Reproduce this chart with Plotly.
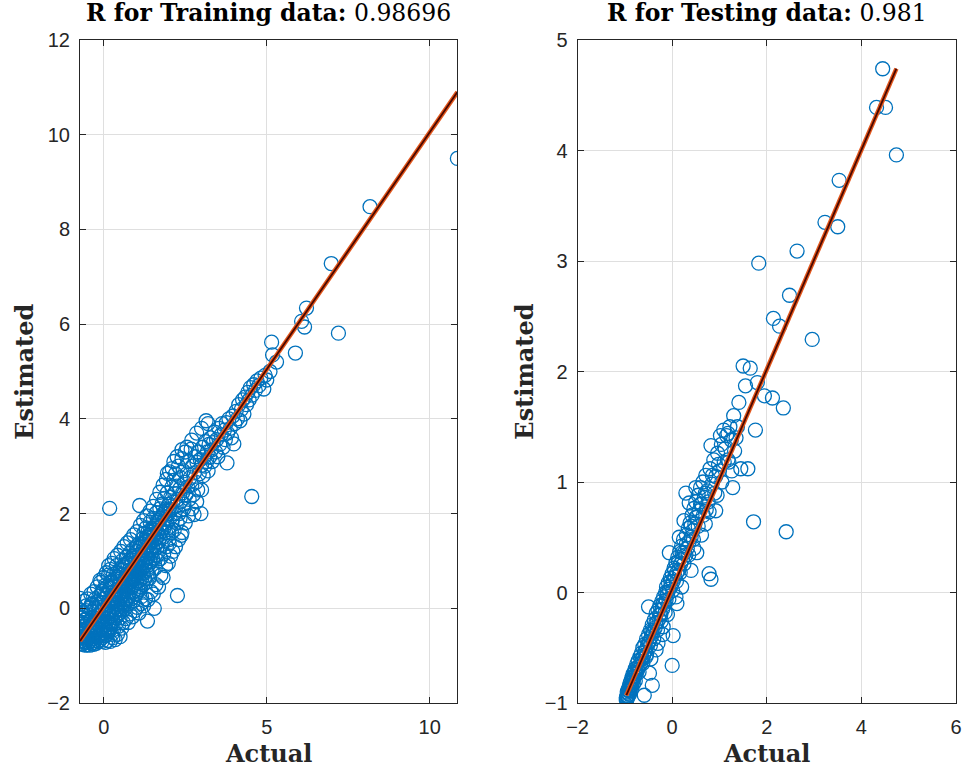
import plotly.graph_objects as go

# ---------------- Training data (Actual vs Estimated) ----------------
train_actual = [
    -0.73, -0.73, -0.72, -0.72, -0.73, -0.70, -0.70, -0.69, -0.69, -0.68,
    -0.67, -0.66, -0.66, -0.65, -0.64, -0.63, -0.62, -0.61, -0.60, -0.59,
    -0.58, -0.57, -0.56, -0.55, -0.54, -0.53, -0.52, -0.51, -0.50, -0.50,
    -0.48, -0.47, -0.46, -0.45, -0.44, -0.43, -0.42, -0.41, -0.40, -0.39,
    -0.38, -0.37, -0.36, -0.35, -0.34, -0.33, -0.32, -0.31, -0.30, -0.29,
    -0.28, -0.27, -0.26, -0.25, -0.24, -0.23, -0.22, -0.21, -0.20, -0.19,
    -0.18, -0.17, -0.16, -0.15, -0.14, -0.13, -0.12, -0.12, -0.11, -0.10,
    -0.09, -0.08, -0.07, -0.06, -0.05, -0.04, -0.03, -0.02, -0.01, 0.00,
    0.01, 0.02, 0.03, 0.04, 0.05, 0.06, 0.07, 0.08, 0.09, 0.10,
    0.11, 0.12, 0.13, 0.14, 0.15, 0.16, 0.17, 0.18, 0.19, 0.20,
    0.21, 0.22, 0.23, 0.24, 0.25, 0.26, 0.27, 0.28, 0.29, 0.30,
    0.31, 0.32, 0.33, 0.34, 0.35, 0.36, 0.37, 0.38, 0.39, 0.40,
    0.41, 0.42, 0.43, 0.44, 0.45, 0.46, 0.47, 0.48, 0.49, 0.50,
    0.51, 0.52, 0.53, 0.54, 0.55, 0.56, 0.57, 0.58, 0.59, 0.60,
    0.61, 0.62, 0.63, 0.64, 0.65, 0.66, 0.67, 0.68, 0.69, 0.70,
    0.71, 0.72, 0.73, 0.74, 0.75, 0.76, 0.77, 0.78, 0.79, 0.80,
    0.81, 0.82, 0.83, 0.84, 0.85, 0.86, 0.87, 0.88, 0.89, 0.90,
    0.91, 0.92, 0.93, 0.94, 0.95, 0.96, 0.97, 0.98, 0.99, 1.00,
    1.01, 1.02, 1.03, 1.04, 1.05, 1.06, 1.07, 1.08, 1.09, 1.10,
    1.10, 1.11, 1.12, 1.13, 1.14, 1.15, 1.16, 1.16, 1.17, 1.18,
    1.19, 1.20, 1.21, 1.22, 1.23, 1.24, 1.25, 1.26, 1.27, 1.28,
    1.29, 1.30, 1.31, 1.32, 1.33, 1.34, 1.34, 1.35, 1.36, 1.37,
    1.38, 1.39, 1.40, 1.40, 1.41, 1.42, 1.43, 1.44, 1.45, 1.46,
    1.47, 1.48, 1.49, 1.50, 1.51, 1.52, 1.53, 1.54, 1.55, 1.56,
    1.57, 1.58, 1.60, 1.61, 1.62, 1.63, 1.65, 1.66, 1.68, 1.69,
    1.70, 1.72, 1.73, 1.74, 1.76, 1.78, 1.79, 1.80, 1.82, 1.83,
    1.85, 1.86, 1.88, 1.90, 1.91, 1.93, 1.95, 1.97, 1.98, 2.00,
    2.01, 2.02, 2.03, 2.05, 2.07, 2.09, 2.10, 2.12, 2.14, 2.16,
    2.18, 2.20, 2.22, 2.24, 2.26, 2.27, 2.29, 2.31, 2.33, 2.35,
    2.37, 2.38, 2.40, 2.42, 2.44, 2.46, 2.48, 2.50, 2.52, 2.55,
    2.57, 2.60, 2.62, 2.65, 2.68, 2.70, 2.72, 2.75, 2.77, 2.78,
    2.80, 2.83, 2.86, 2.88, 2.90, 2.93, 2.96, 2.98, 3.00, 3.03,
    3.05, 3.08, 3.10, 3.12, 3.14, 3.16, 3.18, 3.20, 3.23, 3.25,
    3.28, 3.30, 3.33, 3.36, 3.40, 3.43, 3.46, 3.50, 3.53, 3.56,
    3.60, 3.63, 3.66, 3.70, 3.73, 3.76, 3.78, 3.80, 3.84, 3.88,
    3.92, 3.96, 3.99, 4.02, 4.06, 4.10, 4.14, 4.18, 4.22, 4.26,
    4.30, 4.34, 4.38, 4.42, 4.46, 4.50, 4.54, 4.55, 4.60, 4.65,
    4.70, 4.76, 4.82, 4.91, 4.95, 5.00, 5.10, 5.15, 5.18, 5.30,
    5.88, 6.07, 6.16, 6.22, 6.98, 7.20, 8.17, 10.85, 0.18,
    # lower side of the band
    0.05, 0.12, 0.20, 0.28, 0.35, 0.42, 0.50, 0.30, 0.45, 0.55,
    0.60, 0.68, 0.75, 0.80, 0.88, 0.95, 1.02, 1.08, 1.15, 1.22,
    1.28, 1.35, 1.45, 1.52, 1.60, 1.68, 1.75, 1.82, 1.90, 1.98,
    2.05, 2.12, 2.20, 2.30, 2.40, 2.50, 2.60, 2.70, 2.85, 3.00,
    0.65, 0.72, 0.90, 1.00, 1.10, 1.20, 1.30, 1.38, 1.48, 1.58,
    1.66, 1.74, 1.84, 1.92, 2.00, 2.08, 2.16, 2.25, 2.34, 2.45,
    # upper side of the band
    -0.60, -0.50, -0.40, -0.30, -0.20, -0.10, 0.00, 0.08, 0.15, 0.25,
    0.32, 0.42, 0.52, 0.62, 0.72, 0.82, 0.92, 1.02, 1.12, 1.22,
    1.32, 1.42, 1.52, 1.62, 1.72, 1.82, 1.92, 2.10, 2.25, 2.55,
    2.70, 2.85, 3.00, 3.20, 2.40, 2.15, 1.95,
    # middle of the band
    0.10, 0.20, 0.30, 0.40, 0.50, 0.60, 0.70, 0.80, 0.90, 1.00,
    1.10, 1.20, 1.30, 1.40, 1.50, 1.60, 1.70, 1.80, 1.90, 2.00,
    0.15, 0.25, 0.35, 0.45, 0.55, 0.65, 0.75, 0.85, 0.95, 1.05,
    -0.65, -0.55, -0.45, -0.35, -0.25, -0.15, -0.05, 0.05,
    -0.70, -0.60, -0.30, -0.15, -0.05, 0.10, 0.20, 0.25, 0.40, 0.50,
]
train_estimated = [
    -0.71, -0.52, -0.33, -0.05, 0.21, -0.74, -0.60, -0.44, -0.18, -0.68,
    -0.55, -0.30, -0.76, -0.62, -0.47, -0.10, -0.70, -0.58, -0.38, -0.78,
    -0.65, -0.50, -0.24, -0.72, 0.05, -0.60, -0.42, -0.77, -0.66, -0.30,
    -0.55, -0.72, -0.14, -0.62, -0.40, -0.78, -0.50, -0.26, -0.68, 0.08,
    -0.58, -0.36, -0.74, -0.46, -0.18, -0.64, -0.30, -0.76, -0.52, 0.00,
    -0.40, -0.68, -0.22, -0.56, -0.06, -0.74, -0.44, -0.30, -0.62, 0.14,
    -0.50, -0.14, -0.70, -0.36, 0.02, -0.58, -0.24, 0.59, -0.66, -0.44,
    -0.08, 0.30, -0.54, -0.30, 0.12, -0.62, -0.18, -0.40, 0.40, -0.05,
    -0.52, -0.28, 0.20, -0.58, 0.00, -0.36, 0.50, -0.14, -0.46, 0.28,
    -0.22, 0.06, -0.50, 0.70, -0.30, 0.16, -0.08, 0.42, -0.40, 0.82,
    -0.16, 0.26, 0.04, -0.34, 0.56, -0.06, 0.34, -0.26, 0.12, 0.72,
    -0.12, 0.22, 0.46, -0.20, 0.02, 0.62, 0.30, -0.06, 0.90, 0.16,
    -0.14, 0.40, 0.08, 0.66, -0.04, 0.28, 0.50, -0.10, 0.20, 0.80,
    0.04, 0.36, 0.58, -0.02, 0.26, 1.00, 0.12, 0.46, 0.70, 0.06,
    0.34, 0.56, 0.18, 0.86, 0.42, 0.10, 0.64, 0.30, 1.08, 0.50,
    0.20, 0.72, 0.40, 0.94, 0.60, 0.26, 0.80, 0.48, 1.16, 0.66,
    0.34, 0.90, 0.56, 0.20, 0.76, 1.02, 0.44, 0.68, 1.24, 0.84,
    0.36, 0.60, 1.06, 0.78, 0.50, 0.96, 0.30, 0.72, 1.30, 0.88,
    0.54, 1.12, 0.80, 0.42, 0.98, 0.66, 1.36, 0.90, 0.58, 2.17,
    1.14, 0.76, 1.02, 0.46, 1.28, 0.84, 0.25, 1.10, 0.64, 1.46,
    0.96, 1.22, 0.74, 1.06, 1.58, 0.88, 1.30, 0.62, 1.14, 1.40,
    0.96, 1.70, 1.20, 0.80, 1.44, -0.27, 1.06, 1.30, 1.62, 0.92,
    1.16, 1.50, 0.63, 1.34, 1.00, 1.82, 1.24, 1.56, 0.98, 1.40,
    1.16, 1.68, 1.30, 1.04, 1.52, 1.90, 1.22, 1.44, 0.00, 1.64,
    1.32, 1.12, 1.76, 1.48, 2.02, 1.28, 1.60, 1.86, 1.40, 1.20,
    1.70, 2.10, 1.50, 1.90, 1.34, 1.64, 2.20, 1.80, 1.50, 2.00,
    1.70, 2.32, 1.88, 1.60, 2.10, 1.80, 2.44, 2.00, 1.70, 2.20,
    1.37, 2.88, 1.90, 2.34, 2.08, 2.56, 1.84, 2.24, 2.70, 2.00,
    2.42, 2.84, 2.16, 2.58, 0.27, 2.30, 3.00, 2.00, 2.52, 2.76,
    2.26, 1.54, 3.16, 2.44, 2.90, 2.20, 2.66, 3.30, 2.40, 2.84,
    2.56, 3.10, 2.30, 2.76, 3.36, 2.60, 3.00, 2.40, 1.98, 2.86,
    3.20, 2.66, 3.08, 2.50, 3.30, 2.84, 3.14, 2.00, 3.02, 3.40,
    2.80, 3.20, 3.00, 3.52, 3.96, 3.10, 3.30, 2.90, 3.46, 3.20,
    3.60, 3.34, 3.10, 3.50, 3.72, 3.30, 3.56, 3.20, 3.80, 3.46,
    3.66, 3.90, 3.40, 3.76, 3.56, 3.92, 3.07, 3.70, 4.00, 3.80,
    3.60, 4.06, 3.47, 3.90, 4.16, 4.00, 4.30, 3.96, 4.20, 4.40,
    4.10, 4.46, 4.30, 4.56, 4.40, 4.66, 2.36, 4.50, 4.72, 4.60,
    4.80, 4.70, 4.86, 4.63, 4.92, 4.82, 5.00, 5.62, 5.35, 5.20,
    5.39, 6.06, 5.94, 6.34, 7.28, 5.81, 8.48, 9.50, 2.11,
    # lower side of the band
    -0.72, -0.68, -0.70, -0.62, -0.66, -0.55, -0.60, -0.45, -0.38, -0.42,
    -0.30, -0.22, -0.30, -0.12, -0.18, -0.05, 0.02, -0.10, 0.10, 0.05,
    0.20, 0.18, 0.35, 0.30, 0.50, 0.45, 0.70, 0.65, 0.90, 0.95,
    1.10, 1.20, 1.30, 1.45, 1.60, 1.80, 1.95, 2.10, 2.25, 2.50,
    0.00, 0.08, 0.15, 0.30, 0.40, 0.50, 0.55, 0.70, 0.78, 0.85,
    1.00, 1.05, 1.15, 1.30, 1.45, 1.60, 1.65, 1.80, 1.90, 2.10,
    # upper side of the band
    0.15, 0.20, 0.30, 0.35, 0.45, 0.55, 0.65, 0.75, 0.90, 0.95,
    1.05, 1.12, 1.20, 1.30, 1.38, 1.45, 1.55, 1.62, 1.75, 1.85,
    1.95, 2.05, 2.15, 2.30, 2.45, 2.60, 2.72, 2.95, 3.20, 3.40,
    3.55, 3.70, 3.80, 3.90, 3.35, 3.10, 2.85,
    # middle of the band
    0.45, 0.55, 0.60, 0.75, 0.70, 0.90, 0.95, 1.00, 1.10, 1.20,
    1.30, 1.35, 1.50, 1.55, 1.65, 1.70, 1.85, 1.95, 2.05, 2.10,
    -0.10, 0.15, 0.30, 0.10, 0.35, 0.45, 0.55, 0.60, 0.65, 0.85,
    -0.20, -0.05, 0.00, 0.10, 0.20, 0.25, 0.35, 0.30,
    -0.45, -0.25, -0.72, -0.60, -0.70, -0.55, -0.45, -0.55, -0.30, -0.20,
]

# ---------------- Testing data (Actual vs Estimated) ----------------
test_actual = [
    -0.97, -0.96, -0.95, -0.94, -0.93, -0.92, -0.91, -0.90, -0.89, -0.88,
    -0.87, -0.86, -0.85, -0.84, -0.83, -0.82, -0.80, -0.79, -0.78, -0.76,
    -0.75, -0.73, -0.72, -0.70, -0.68, -0.66, -0.65, -0.63, -0.62, -0.60,
    -0.59, -0.55, -0.48, -0.42, -0.50, -0.58, -0.56, -0.54, -0.52, -0.50,
    -0.48, -0.46, -0.44, -0.42, -0.40, -0.38, -0.36, -0.34, -0.34, -0.32,
    -0.30, -0.28, -0.26, -0.24, -0.22, -0.20, -0.19, -0.18, -0.16, -0.14,
    -0.13, -0.12, -0.10, -0.08, -0.06, -0.06, -0.04, -0.02, 0.00, 0.00,
    0.02, 0.02, 0.04, 0.06, 0.08, 0.08, 0.10, 0.12, 0.14, 0.16,
    0.18, 0.20, 0.22, 0.24, 0.26, 0.29, 0.29, 0.30, 0.32, 0.34,
    0.36, 0.36, 0.38, 0.40, 0.42, 0.44, 0.46, 0.46, 0.48, 0.50,
    0.52, 0.55, 0.57, 0.60, 0.62, 0.65, 0.68, 0.71, 0.72, 0.74,
    0.78, 0.78, 0.80, 0.82, 0.82, 0.84, 0.88, 0.92, 0.92, 0.96,
    1.00, 1.04, 1.09, 1.10, 1.15, 1.20, 1.22, 1.28, 1.30, 1.35,
    1.41, 1.45, 1.50, 1.55, 1.60, 1.65, 1.72, 1.76, 1.80, 1.83,
    1.95, 2.12, 2.14, 2.27, 2.35, 2.41, 2.48, 2.64, 2.96, 3.23,
    3.50, 3.53, 4.32, 4.45, 4.51, 4.74,
    -0.97, -0.96, -0.95, -0.94, -0.93, -0.92, -0.90, -0.88, -0.86, -0.84,
    -0.82, -0.80, -0.78, -0.74, -0.70, -0.66, -0.62, -0.58, -0.54, -0.50,
    -0.46, -0.43, -0.39, -0.35, -0.31, -0.27, -0.23, -0.19, -0.15, -0.11,
    -0.07, -0.03, 0.01, 0.05, 0.09, 0.13, 0.17, 0.21, 0.25, 0.30,
    0.35, 0.40, 0.45, 0.50, 0.55, 0.60, 0.66, 0.70, 0.76, 0.85,
    0.90, 0.98, 1.05, 1.12, 1.18, 1.25, 1.32, 1.38, 1.18, 1.26,
    0.62, 0.52, 0.70, 0.95, 1.02, -0.45, -0.30, -0.20, -0.10, 0.10,
    0.20, 0.40, 0.15, 0.25, 0.50,
]
test_estimated = [
    -0.97, -0.94, -0.90, -0.95, -0.88, -0.92, -0.85, -0.89, -0.82, -0.86,
    -0.80, -0.84, -0.77, -0.81, -0.74, -0.79, -0.72, -0.76, -0.69, -0.73,
    -0.65, -0.70, -0.62, -0.67, -0.58, -0.64, -0.55, -0.60, -0.50, -0.57,
    -0.93, -0.58, -0.73, -0.84, -0.13, -0.47, -0.52, -0.42, -0.48, -0.38,
    -0.44, -0.34, -0.40, -0.29, -0.36, -0.25, -0.32, -0.19, -0.52, -0.27,
    -0.16, -0.24, -0.12, -0.20, -0.08, -0.15, -0.31, -0.04, -0.11, 0.00,
    -0.07, 0.05, -0.02, 0.09, 0.36, 0.03, 0.13, 0.06, -0.66, 0.17,
    0.10, -0.39, 0.22, 0.14, -0.04, 0.27, 0.18, 0.32, 0.20, 0.37,
    0.26, 0.42, 0.30, 0.48, 0.36, 0.34, 0.90, 0.52, 0.40, 0.58,
    0.81, 0.46, 0.63, 0.50, 0.70, 0.56, 0.40, 0.76, 0.62, 0.82,
    0.68, 0.88, 0.74, 0.95, 0.80, 1.00, 0.86, 1.06, 0.75, 0.92,
    0.73, 0.17, 1.12, 0.12, 1.33, 0.98, 1.20, 0.74, 1.05, 1.26,
    1.10, 1.34, 1.47, 1.18, 1.42, 1.18, 1.50, 0.95, 1.60, 1.40,
    1.72, 1.12, 2.05, 1.87, 1.12, 2.03, 0.64, 1.47, 1.90, 2.98,
    1.78, 1.76, 2.48, 2.41, 1.67, 0.55, 2.69, 3.09, 2.29, 3.35,
    3.31, 3.73, 4.39, 4.74, 4.39, 3.96,
    -0.95, -0.97, -0.93, -0.91, -0.94, -0.89, -0.92, -0.84, -0.87, -0.78,
    -0.83, -0.76, -0.80, -0.68, -0.72, -0.60, -0.64, -0.54, -0.56, -0.45,
    -0.48, -0.35, -0.42, -0.28, -0.34, -0.20, -0.26, -0.10, -0.18, 0.00,
    -0.06, 0.10, 0.02, 0.20, 0.10, 0.28, 0.18, 0.36, 0.26, 0.44,
    0.34, 0.60, 0.48, 0.68, 0.60, 0.80, 0.70, 0.90, 0.82, 1.06,
    0.90, 1.16, 1.00, 1.30, 1.20, 1.38, 1.28, 1.50, 1.44, 1.10,
    0.52, 0.36, 0.62, 0.88, 1.42, -0.60, -0.46, -0.38, -0.20, -0.10,
    0.05, 0.20, 0.50, 0.65, 0.95,
]

# Fitted lines (end points)
train_fit_x = [-0.73, 10.85]
train_fit_y = [-0.69, 10.90]
test_fit_x = [-0.97, 4.74]
test_fit_y = [-0.93, 4.74]

# Titles / ticks
train_title = "<b>R for Training data:</b> 0.98696"
test_title = "<b>R for Testing data:</b> 0.981"
train_xticks = [0, 5, 10]
train_yticks = [-2, 0, 2, 4, 6, 8, 10, 12]
test_xticks = [-2, 0, 2, 4, 6]
test_yticks = [-1, 0, 1, 2, 3, 4, 5]

BLUE = "#0072BD"
SERIF = "DejaVu Serif, Liberation Serif, serif"
SANS = "Liberation Sans, Arial, sans-serif"
AX = "#262626"

fig = go.Figure()

def add_panel(xs, ys, fx, fy, xa, ya):
    fig.add_trace(go.Scatter(
        x=xs, y=ys, mode="markers", xaxis=xa, yaxis=ya, showlegend=False,
        marker=dict(symbol="circle-open", size=14, color=BLUE,
                    line=dict(width=1.3, color=BLUE)),
    ))
    fig.add_trace(go.Scatter(
        x=fx, y=fy, mode="lines", xaxis=xa, yaxis=ya, showlegend=False,
        line=dict(color="#E2561B", width=4.5),
    ))
    fig.add_trace(go.Scatter(
        x=fx, y=fy, mode="lines", xaxis=xa, yaxis=ya, showlegend=False,
        line=dict(color="#4a0800", width=1.8),
    ))

add_panel(train_actual, train_estimated, train_fit_x, train_fit_y, "x", "y")
add_panel(test_actual, test_estimated, test_fit_x, test_fit_y, "x2", "y2")

axis_common = dict(
    showline=True, linecolor=AX, linewidth=1, mirror="ticks",
    ticks="inside", ticklen=6, tickcolor=AX, tickwidth=1,
    showgrid=True, gridcolor="#dfdfdf", gridwidth=1, zeroline=False,
    tickfont=dict(family=SANS, size=20, color=AX),
)

fig.update_layout(
    width=971, height=770,
    margin=dict(l=80, r=9, t=40, b=67),
    paper_bgcolor="white", plot_bgcolor="white",
    xaxis=dict(domain=[0, 0.4308], range=[-0.73, 10.85], tickvals=train_xticks,
               ticklabelstandoff=6, anchor="y", **axis_common),
    yaxis=dict(range=[-2, 12], tickvals=train_yticks, anchor="x",
               ticklabelstandoff=5, **axis_common),
    xaxis2=dict(domain=[0.568, 1], range=[-2, 6], tickvals=test_xticks,
                ticklabelstandoff=6, anchor="y2", **axis_common),
    yaxis2=dict(range=[-1, 5], tickvals=test_yticks, anchor="x2",
                ticklabelstandoff=5, **axis_common),
)

ann_font_title = dict(family=SERIF, size=23.5, color="black")
ann_font_label = dict(family=SERIF, size=24, color=AX)
fig.add_annotation(text=train_title, xref="paper", yref="paper", x=0.2154, y=1.041,
                   showarrow=False, font=ann_font_title, xanchor="center", yanchor="middle")
fig.add_annotation(text=test_title, xref="paper", yref="paper", x=0.784, y=1.041,
                   showarrow=False, font=ann_font_title, xanchor="center", yanchor="middle")
fig.add_annotation(text="<b>Actual</b>", xref="paper", yref="paper", x=0.2154, y=-0.076,
                   showarrow=False, font=ann_font_label, xanchor="center", yanchor="middle")
fig.add_annotation(text="<b>Actual</b>", xref="paper", yref="paper", x=0.784, y=-0.076,
                   showarrow=False, font=ann_font_label, xanchor="center", yanchor="middle")
fig.add_annotation(text="<b>Estimated</b>", xref="paper", yref="paper", x=-0.0635, y=0.5,
                   showarrow=False, font=ann_font_label, textangle=-90,
                   xanchor="center", yanchor="middle")
fig.add_annotation(text="<b>Estimated</b>", xref="paper", yref="paper", x=0.507, y=0.5,
                   showarrow=False, font=ann_font_label, textangle=-90,
                   xanchor="center", yanchor="middle")

fig.write_html("out.html", config={"displayModeBar": False},
               post_script="document.body.style.margin='0px';")
